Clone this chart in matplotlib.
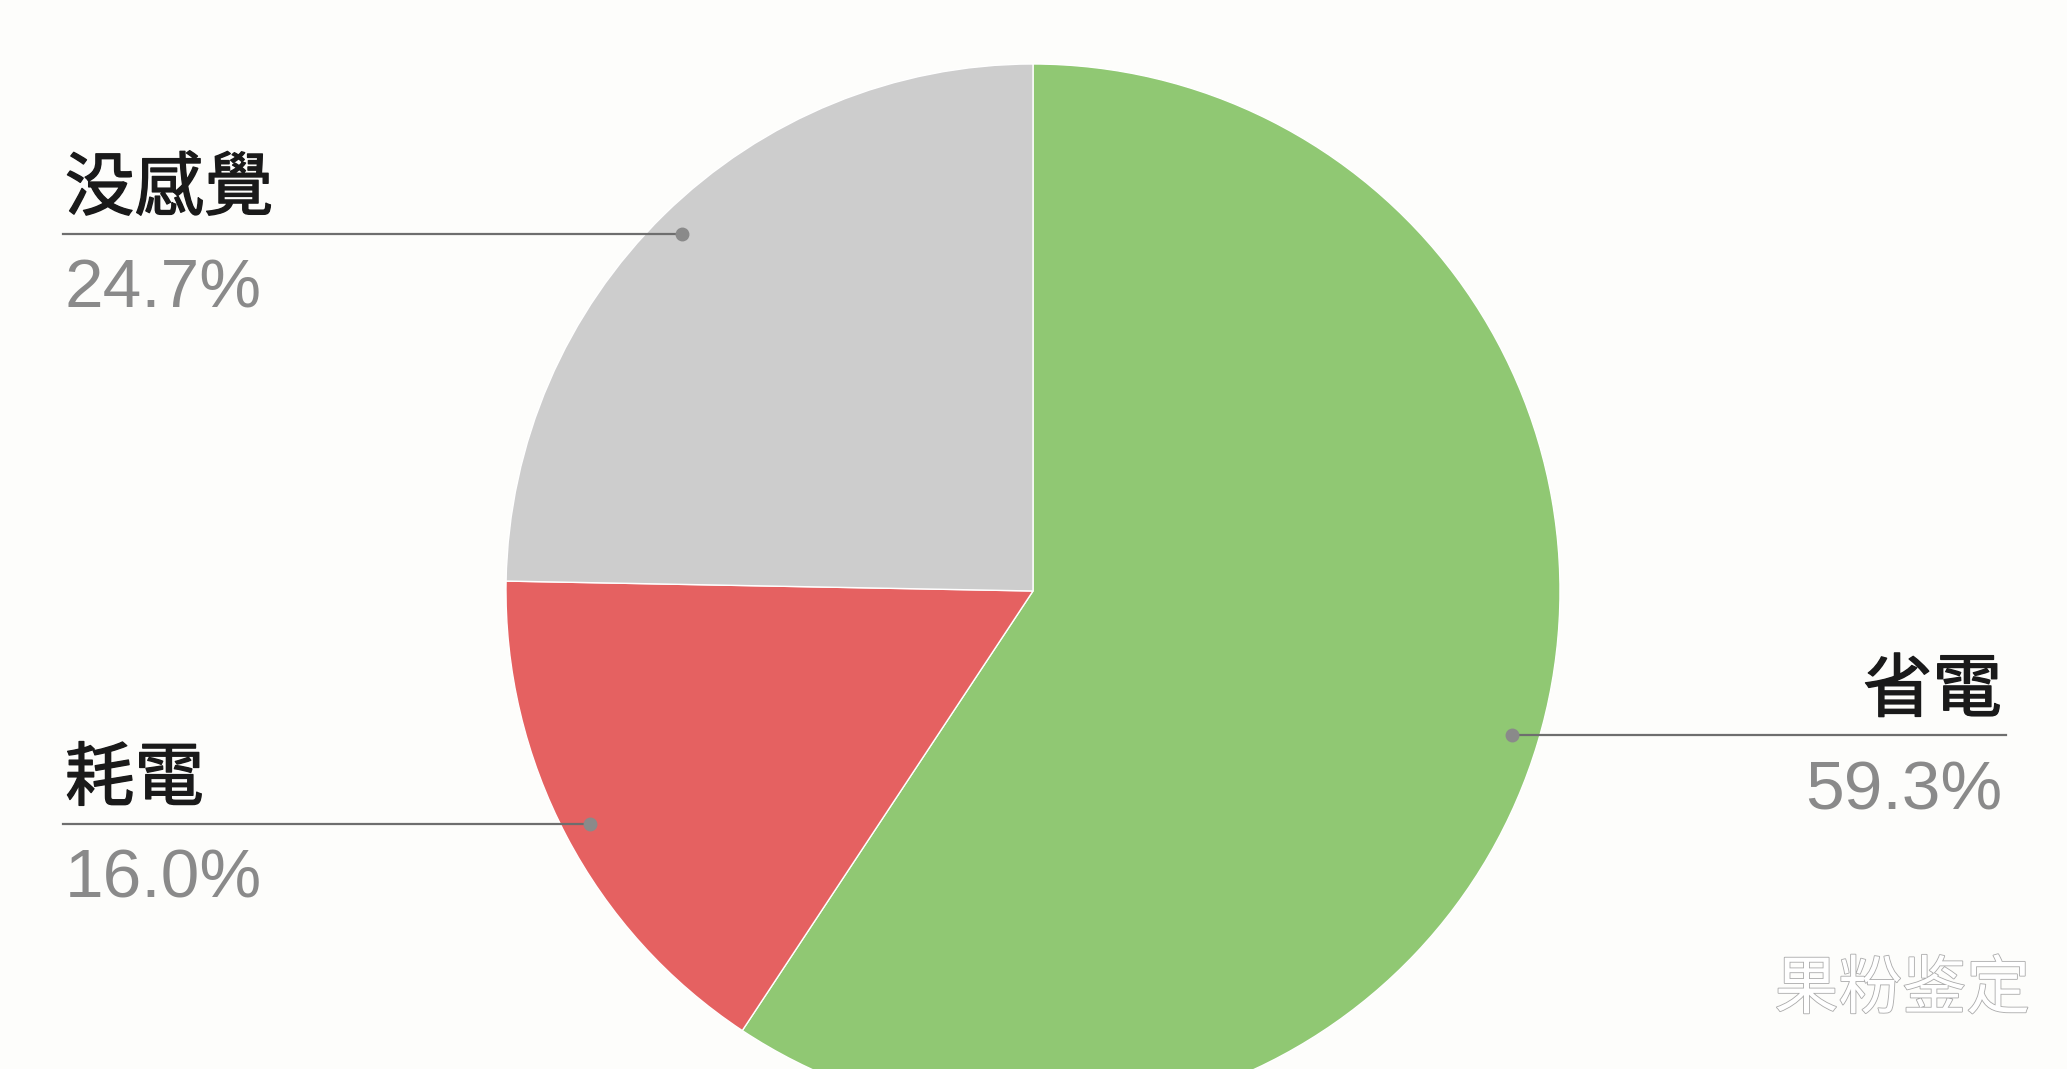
import numpy as np
import matplotlib.pyplot as plt
import matplotlib.patheffects as pe

plt.rcParams['font.family'] = ['Noto Sans CJK TC', 'DejaVu Sans']

# data
labels = ['省電', '耗電', '没感覺']
values = [59.3, 16.0, 24.7]
pct_labels = ['59.3%', '16.0%', '24.7%']
colors = ['#90c873', '#e56161', '#cdcdcd']
sides = ['right', 'left', 'left']

W, H = 2067, 1069
fig = plt.figure(figsize=(W / 100, H / 100), dpi=100)
fig.patch.set_facecolor('#fdfdfb')
ax = fig.add_axes([0, 0, 1, 1])
ax.set_facecolor('#fdfdfb')

cx, cy, R = 1033, H - 591, 527
wedges, _ = ax.pie(values, colors=colors, startangle=90, counterclock=False,
                   center=(cx, cy), radius=R,
                   wedgeprops=dict(edgecolor='white', linewidth=1))

ax.set_xlim(0, W)
ax.set_ylim(0, H)
ax.set_aspect('equal')
ax.axis('off')

# slightly heavier than regular weight, like the original labels
thick = [pe.withStroke(linewidth=1.0, foreground='#1a1a1a')]

left_x, right_x = 65, 2006
for w, lab, pct, side in zip(wedges, labels, pct_labels, sides):
    mid = np.deg2rad((w.theta1 + w.theta2) / 2)
    dx = cx + 0.95 * R * np.cos(mid)
    dy = cy + 0.95 * R * np.sin(mid)
    end_x = left_x - 2 if side == 'left' else right_x
    ax.plot([end_x, dx], [dy, dy], color='#6e6e6e', lw=1.6, zorder=3)
    ax.plot(dx, dy, 'o', color='#8a8a8a', ms=9, zorder=4)
    ha = 'left' if side == 'left' else 'right'
    tx = left_x if side == 'left' else right_x - 4
    ax.text(tx, dy + 8, lab, ha=ha, va='bottom', fontsize=50,
            color='#1a1a1a', path_effects=thick)
    ax.text(tx, dy - 24, pct, ha=ha, va='top', fontsize=50,
            family=['Liberation Sans', 'DejaVu Sans'], color='#8a8a8a')

# watermark
ax.text(2030, H - 990, '果粉鉴定', ha='right', va='center', fontsize=46,
        family=['Noto Sans CJK SC', 'DejaVu Sans'], color='white',
        path_effects=[pe.withStroke(linewidth=1.2, foreground='#aaaaaa')])

fig.savefig('out.png', dpi=100, facecolor=fig.get_facecolor())
